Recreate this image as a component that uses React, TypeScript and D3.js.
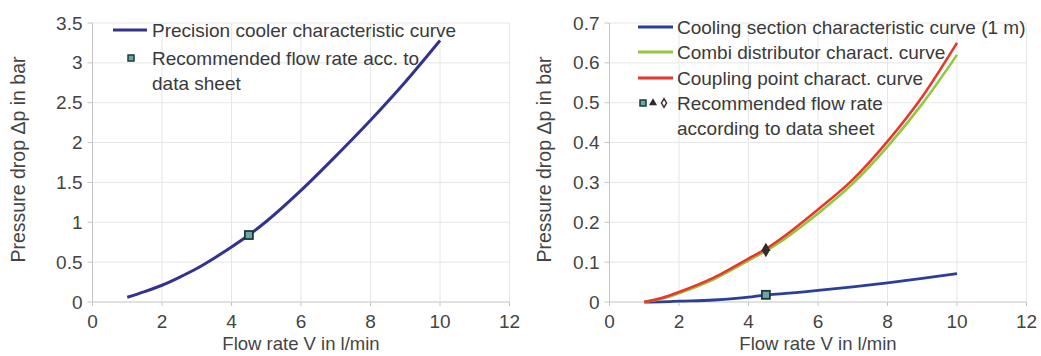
import React from "react";
import * as d3 from "d3";

// Left chart: precision cooler
const flowL = [1, 1.5, 2, 2.5, 3, 3.5, 4, 4.5, 5, 6, 7, 8, 9, 10];
const dpCooler = [0.06, 0.13, 0.21, 0.31, 0.42, 0.55, 0.69, 0.84, 1.01, 1.4, 1.83, 2.28, 2.76, 3.28];
const recL = { x: 4.5, y: 0.84 };

// Right chart
const flowR = [1, 1.5, 2, 3, 4, 4.5, 5, 6, 7, 8, 9, 10];
const dpSection = [0, 0.0005, 0.002, 0.005, 0.012, 0.018, 0.021, 0.029, 0.038, 0.048, 0.059, 0.071];
const dpCombi = [0, 0.008, 0.022, 0.057, 0.104, 0.128, 0.156, 0.222, 0.297, 0.39, 0.497, 0.62];
const dpCoupling = [0, 0.01, 0.025, 0.061, 0.109, 0.133, 0.163, 0.232, 0.307, 0.403, 0.515, 0.65];
const recR = { x: 4.5, section: 0.018, combi: 0.135, coupling: 0.127 };

const xTicks = [0, 2, 4, 6, 8, 10, 12];
const yTicksL = [0, 0.5, 1, 1.5, 2, 2.5, 3, 3.5];
const yTicksR = [0, 0.1, 0.2, 0.3, 0.4, 0.5, 0.6, 0.7];

const legendL = ["Precision cooler characteristic curve", "Recommended flow rate acc. to", "data sheet"];
const legendR = [
  "Cooling section characteristic curve (1 m)",
  "Combi distributor charact. curve",
  "Coupling point charact. curve",
  "Recommended flow rate",
  "according to data sheet",
];

const C_COOLER = "#33338f";
const C_BLUE = "#2b3f9a";
const C_GREEN = "#92c83e";
const C_RED = "#e8372b";
const GRID = "#e6e6e6";
const AXIS = "#c4c4c4";
const TXT = "#444";
const FONT = "Liberation Sans, Arial, sans-serif";

function Frame({ x, y, yTicks, fmt, title, cx }: any) {
  const [x0, x1] = x.range();
  const [y0, y1] = y.range();
  return (
    <g>
      {yTicks.map((t: number) => (
        <line key={"h" + t} x1={x0} x2={x1} y1={y(t)} y2={y(t)} stroke={t === 0 ? AXIS : GRID} strokeWidth={1} />
      ))}
      {xTicks.filter((t) => t > 0).map((t) => (
        <line key={"v" + t} x1={x(t)} x2={x(t)} y1={y0} y2={y1} stroke={GRID} strokeWidth={1} />
      ))}
      <line x1={x0} x2={x0} y1={y0} y2={y1} stroke={AXIS} strokeWidth={1} />
      {yTicks.map((t: number) => (
        <line key={"yt" + t} x1={x0 - 5} x2={x0} y1={y(t)} y2={y(t)} stroke={AXIS} />
      ))}
      {xTicks.map((t) => (
        <line key={"xt" + t} x1={x(t)} x2={x(t)} y1={y0} y2={y0 + 4} stroke={AXIS} />
      ))}
      {yTicks.map((t: number) => (
        <text key={"yl" + t} x={x0 - 10} y={y(t) + 6.5} textAnchor="end" fontSize={19} fill={TXT} fontFamily={FONT}>
          {fmt(t)}
        </text>
      ))}
      {xTicks.map((t) => (
        <text key={"xl" + t} x={x(t)} y={328} textAnchor="middle" fontSize={19} fill={TXT} fontFamily={FONT}>
          {t}
        </text>
      ))}
      <text x={(x0 + x1) / 2} y={350} textAnchor="middle" fontSize={18.5} fill={TXT} fontFamily={FONT}>
        {title}
      </text>
      <text
        transform={`translate(${cx},${(y0 + y1) / 2 - 3}) rotate(-90)`}
        textAnchor="middle"
        dy={6.5}
        fontSize={19.5}
        fill={TXT}
        fontFamily={FONT}
      >
        Pressure drop Δp in bar
      </text>
    </g>
  );
}

export default function App() {
  const xL = d3.scaleLinear().domain([0, 12]).range([92.5, 509.5]);
  const yL = d3.scaleLinear().domain([0, 3.5]).range([302, 23]);
  const xR = d3.scaleLinear().domain([0, 12]).range([609.5, 1026.5]);
  const yR = d3.scaleLinear().domain([0, 0.7]).range([302, 23]);

  const lineL = d3
    .line<number>()
    .x((_, i) => xL(flowL[i]))
    .y((d) => yL(d))
    .curve(d3.curveMonotoneX);
  const lineR = d3
    .line<number>()
    .x((_, i) => xR(flowR[i]))
    .y((d) => yR(d))
    .curve(d3.curveMonotoneX);

  const tri = d3.symbol().type(d3.symbolTriangle).size(40)();
  const dia = d3.symbol().type(d3.symbolDiamond).size(40)();
  const triSmall = d3.symbol().type(d3.symbolTriangle).size(28)();
  const diaSmall = d3.symbol().type(d3.symbolDiamond).size(22)();

  return (
    <svg
      width={1041}
      height={356}
      style={{ position: "absolute", left: 0, top: 0, background: "#fff", display: "block" }}
    >
      <rect x={0} y={0} width={1041} height={356} fill="#fff" />
      <Frame x={xL} y={yL} yTicks={yTicksL} fmt={(t: number) => String(t)} title="Flow rate V in l/min" cx={18} />
      <Frame x={xR} y={yR} yTicks={yTicksR} fmt={(t: number) => String(t)} title="Flow rate V in l/min" cx={544} />

      {/* Left curve */}
      <path d={lineL(dpCooler) || ""} fill="none" stroke={C_COOLER} strokeWidth={3} />
      <rect x={xL(recL.x) - 4} y={yL(recL.y) - 4} width={8} height={8} fill="#6aa6a4" stroke="#1d3a3c" strokeWidth={1.8} />

      {/* Left legend */}
      <line x1={113} x2={147} y1={30} y2={30} stroke={C_COOLER} strokeWidth={3} />
      <rect x={128} y={55} width={6} height={6} fill="#6aa6a4" stroke="#1d3a3c" strokeWidth={1.5} />
      <g fontSize={19} fill="#3a3a3a" fontFamily={FONT}>
        <text x={152} y={36.5}>{legendL[0]}</text>
        <text x={152} y={64.5}>{legendL[1]}</text>
        <text x={152} y={89.5}>{legendL[2]}</text>
      </g>

      {/* Right curves */}
      <path d={lineR(dpSection) || ""} fill="none" stroke={C_BLUE} strokeWidth={2.8} />
      <path d={lineR(dpCombi) || ""} fill="none" stroke={C_GREEN} strokeWidth={2.6} />
      <path d={lineR(dpCoupling) || ""} fill="none" stroke={C_RED} strokeWidth={2.6} />
      <rect x={xR(recR.x) - 4} y={yR(recR.section) - 4} width={8} height={8} fill="#6aa6a4" stroke="#1d3a3c" strokeWidth={1.8} />
      <path d={tri || ""} transform={`translate(${xR(recR.x)},${yR(recR.combi)})`} fill="#2a2a2a" />
      <path d={dia || ""} transform={`translate(${xR(recR.x)},${yR(recR.coupling)})`} fill="#3a2a2a" />

      {/* Right legend */}
      <line x1={638} x2={673} y1={27} y2={27} stroke={C_BLUE} strokeWidth={3} />
      <line x1={638} x2={673} y1={52} y2={52} stroke={C_GREEN} strokeWidth={3} />
      <line x1={638} x2={673} y1={78} y2={78} stroke={C_RED} strokeWidth={3} />
      <rect x={640} y={100} width={6} height={6} fill="#6aa6a4" stroke="#1d3a3c" strokeWidth={1.5} />
      <path d={triSmall || ""} transform="translate(653,103)" fill="#2a2a2a" />
      <path d={diaSmall || ""} transform="translate(664,103)" fill="#fff" stroke="#3a2a2a" strokeWidth={1.5} />
      <g fontSize={19} fill="#3a3a3a" fontFamily={FONT}>
        {legendR.map((s, i) => (
          <text key={s} x={677} y={[33.5, 58.5, 84.5, 109.5, 134.5][i]}>
            {s}
          </text>
        ))}
      </g>
    </svg>
  );
}
